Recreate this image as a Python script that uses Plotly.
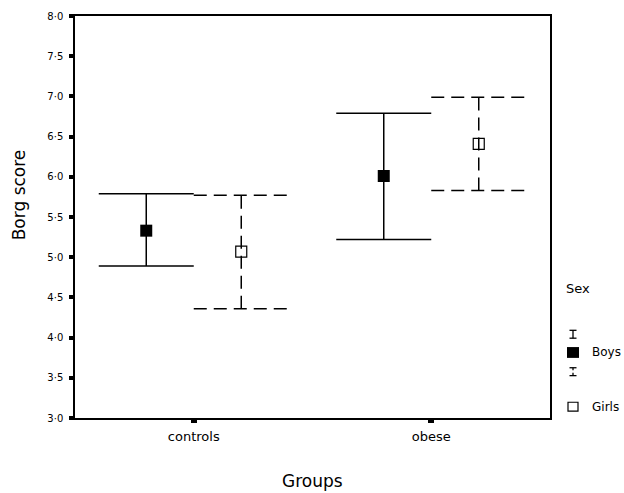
import plotly.graph_objects as go

# ---- data ----
groups = ["controls", "obese"]
boys_mean = [5.33, 6.01]
boys_lower = [4.89, 5.22]
boys_upper = [5.79, 6.79]
girls_mean = [5.07, 6.41]
girls_lower = [4.36, 5.83]
girls_upper = [5.77, 6.99]
y_tickvals = [3.0, 3.5, 4.0, 4.5, 5.0, 5.5, 6.0, 6.5, 7.0, 7.5, 8.0]
y_ticktext = ["3·0", "3·5", "4·0", "4·5", "5·0", "5·5", "6·0", "6·5", "7·0", "7·5", "8·0"]

# ---- layout constants ----
W, H = 624, 493
ML, MR, MT, MB = 75, 74, 10, 75
PW, PH = W - ML - MR, H - MT - MB
FONT = "DejaVu Sans"


def px(x):
    return (x - ML) / PW


def py(y):
    return (H - MB - y) / PH


def whisker_xy(means, lower, upper, offset, half):
    xs, ys = [], []
    for i in range(len(means)):
        c = i + offset
        xs += [c - half, c + half, None, c, c, None, c - half, c + half, None]
        ys += [upper[i], upper[i], None, lower[i], upper[i], None, lower[i], lower[i], None]
    return xs, ys


fig = go.Figure()
OFF, HALF = 0.2, 0.2
xb, yb = whisker_xy(boys_mean, boys_lower, boys_upper, -OFF, HALF)
xg, yg = whisker_xy(girls_mean, girls_lower, girls_upper, OFF, HALF)
fig.add_trace(go.Scatter(x=xb, y=yb, mode="lines", line=dict(color="black", width=1.5),
                         hoverinfo="skip", showlegend=False))
fig.add_trace(go.Scatter(x=xg, y=yg, mode="lines",
                         line=dict(color="black", width=1.5, dash="13px,7px"),
                         hoverinfo="skip", showlegend=False))
fig.add_trace(go.Scatter(x=[i - OFF for i in range(len(groups))], y=boys_mean, mode="markers",
                         name="Boys", marker=dict(symbol="square", size=12, color="black",
                                                  line=dict(width=0)), showlegend=False))
fig.add_trace(go.Scatter(x=[i + OFF for i in range(len(groups))], y=girls_mean, mode="markers",
                         name="Girls", marker=dict(symbol="square-open", size=11, color="black",
                                                   line=dict(width=1.2)), showlegend=False))

fig.update_xaxes(range=[-0.5, len(groups) - 0.5], tickvals=list(range(len(groups))),
                 ticktext=groups, showgrid=False, zeroline=False,
                 showline=True, linecolor="black", linewidth=1.5, mirror=True,
                 ticks="outside", ticklen=3, tickwidth=6, tickcolor="black",
                 ticklabelstandoff=3,
                 tickfont=dict(family=FONT, size=13, color="black"))
fig.update_yaxes(range=[3, 8], tickvals=y_tickvals, ticktext=y_ticktext,
                 showgrid=False, zeroline=False,
                 showline=True, linecolor="black", linewidth=1.5, mirror=True,
                 ticks="outside", ticklen=4, tickwidth=4, tickcolor="black",
                 ticklabelstandoff=4,
                 tickfont=dict(family=FONT, size=10, color="black"))

shapes = []
lw = dict(color="black", width=1.3)
# solid I-bar legend symbol
for (x0, y0, x1, y1) in [(569.5, 329, 576.5, 329), (573, 329, 573, 337), (569.5, 337, 576.5, 337)]:
    shapes.append(dict(type="line", xref="paper", yref="paper", x0=px(x0), y0=py(y0),
                       x1=px(x1), y1=py(y1), line=lw))
# dashed I-bar legend symbol
for (x0, y0, x1, y1) in [(569.5, 367, 576.5, 367), (573, 367, 573, 369.5),
                         (573, 372, 573, 375), (569.5, 375, 576.5, 375)]:
    shapes.append(dict(type="line", xref="paper", yref="paper", x0=px(x0), y0=py(y0),
                       x1=px(x1), y1=py(y1), line=lw))
shapes.append(dict(type="rect", xref="paper", yref="paper", x0=px(567), y0=py(346),
                   x1=px(579), y1=py(357), fillcolor="black", line=dict(width=0)))
shapes.append(dict(type="rect", xref="paper", yref="paper", x0=px(568), y0=py(402),
                   x1=px(578), y1=py(411), fillcolor="white", line=dict(color="black", width=1.2)))

annotations = [
    dict(text="Sex", x=px(578), y=py(287), xref="paper", yref="paper", showarrow=False,
         font=dict(family=FONT, size=13, color="black"), xanchor="center", yanchor="middle"),
    dict(text="Boys", x=px(590), y=py(351.5), xref="paper", yref="paper", showarrow=False,
         font=dict(family=FONT, size=12, color="black"), xanchor="left", yanchor="middle"),
    dict(text="Girls", x=px(590), y=py(406.5), xref="paper", yref="paper", showarrow=False,
         font=dict(family=FONT, size=12, color="black"), xanchor="left", yanchor="middle"),
    dict(text="Borg score", x=px(19), y=py(192), xref="paper", yref="paper", showarrow=False,
         textangle=-90, font=dict(family=FONT, size=17, color="black"),
         xanchor="center", yanchor="middle"),
    dict(text="Groups", x=px(312), y=py(482), xref="paper", yref="paper", showarrow=False,
         font=dict(family=FONT, size=17, color="black"), xanchor="center", yanchor="middle"),
]

fig.update_layout(width=W, height=H, margin=dict(l=ML, r=MR, t=MT, b=MB),
                  paper_bgcolor="white", plot_bgcolor="white",
                  shapes=shapes, annotations=annotations, showlegend=False,
                  font=dict(family=FONT, color="black"))

fig.write_html("out.html", config={"displayModeBar": False},
               post_script="document.body.style.margin='0';document.body.style.overflow='hidden';")
